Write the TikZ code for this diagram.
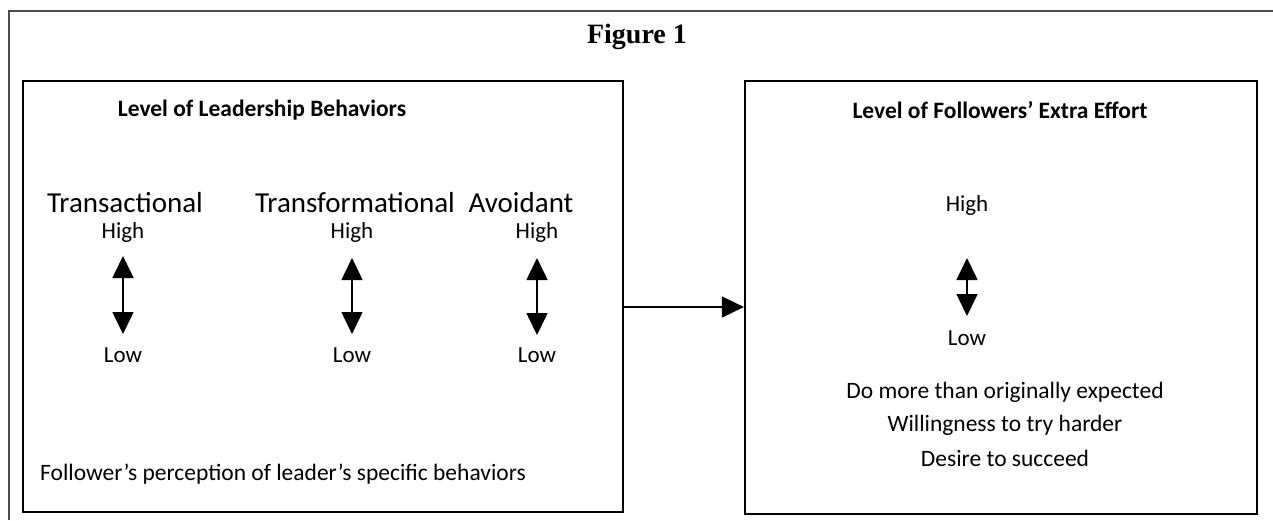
\documentclass[tikz,border=0pt]{standalone}
\usepackage{fontspec}
\setmainfont{Carlito}
\newfontfamily\timesfont{Liberation Serif}
\usetikzlibrary{arrows.meta}
\begin{document}
\begin{tikzpicture}[x=1pt,y=-1pt,
  box/.style={draw, line width=2.2pt, inner sep=0pt},
  head/.style={font=\fontsize{23.5}{26}\selectfont\bfseries, inner sep=0pt},
  big/.style={font=\fontsize{29}{30}\selectfont, inner sep=0pt},
  small/.style={font=\fontsize{23}{24}\selectfont, inner sep=0pt},
  txt/.style={font=\fontsize{23.5}{25}\selectfont, inner sep=0pt},
  dbl/.style={line width=1.6pt, {Triangle[width=21pt,length=22pt]}-{Triangle[width=21pt,length=22pt]}},
  sgl/.style={line width=1.6pt, -{Triangle[width=21pt,length=22pt]}}]
\useasboundingbox (0,0) rectangle (1273,520);
% outer frame
\draw[line width=1.4pt, black!70] (9,520) -- (9,11) -- (1273,11);
\node[inner sep=0pt, font=\timesfont\fontsize{28}{30}\selectfont\bfseries] (fig) at (637,37) {Figure 1};
% boxes
\node[box, minimum width=600pt, minimum height=431pt] (lbox) at (323,296.5) {};
\node[box, minimum width=512pt, minimum height=433pt] (rbox) at (1001,297.5) {};
% left box content
\node[head] (lh) at (262,110) {Level of Leadership Behaviors};
\node[big] (t1) at (125,203) {Transactional};
\node[big] (t2) at (355,203) {Transformational};
\node[big] (t3) at (521,203) {Avoidant};
\node[small] (h1) at (123,232) {High};
\node[small] (h2) at (352,232) {High};
\node[small] (h3) at (537,232) {High};
\node[small] (l1) at (123,355) {Low};
\node[small] (l2) at (352,355) {Low};
\node[small] (l3) at (537,355) {Low};
\coordinate (a1t) at (123,256); \coordinate (a1b) at (123,334);
\coordinate (a2t) at (352,258); \coordinate (a2b) at (352,334);
\coordinate (a3t) at (537,258); \coordinate (a3b) at (537,335);
\draw[dbl] (a1t) -- (a1b);
\draw[dbl] (a2t) -- (a2b);
\draw[dbl] (a3t) -- (a3b);
\node[txt] (fp) at (283,474) {Follower’s perception of leader’s specific behaviors};
% right box content
\node[head] (rh) at (1000,110) {Level of Followers’ Extra Effort};
\node[small] (h4) at (967,205) {High};
\node[small] (l4) at (967,338) {Low};
\coordinate (a4t) at (967,258); \coordinate (a4b) at (967,316);
\draw[dbl] (a4t) -- (a4b);
\node[txt] (d1) at (1005,392) {Do more than originally expected};
\node[txt] (d2) at (1005,425) {Willingness to try harder};
\node[txt] (d3) at (1005,458) {Desire to succeed};
% connecting arrow
\coordinate (ca) at (lbox.east |- 0,307);
\coordinate (cb) at (rbox.west |- 0,307);
\draw[sgl] (ca) -- (cb);
\end{tikzpicture}
\end{document}
